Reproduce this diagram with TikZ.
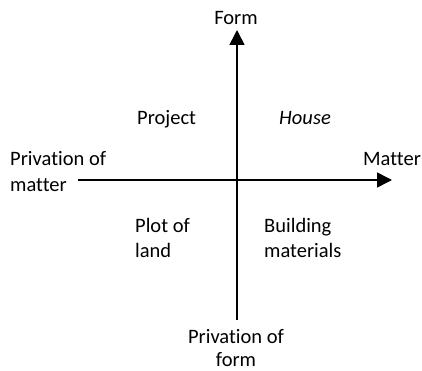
\documentclass[tikz,border=0pt]{standalone}
\usepackage{fontspec}
\setmainfont[Ligatures={NoCommon}]{Carlito}
\usetikzlibrary{arrows.meta}
\tikzset{
  axis/.style={line width=1.6pt,-{Triangle[length=15pt,width=15pt]}},
  lbl/.style={inner sep=0pt,font=\fontsize{20.5}{25}\selectfont}
}
\begin{document}
\begin{tikzpicture}[x=1pt,y=-1pt]
\useasboundingbox[fill=white] (0,0) rectangle (422,371);
\coordinate (vb) at (237,320);
\coordinate (vt) at (237,30);
\coordinate (hl) at (78,180);
\coordinate (hr) at (392,180);
\draw[axis] (vb) -- (vt);
\draw[axis] (hl) -- (hr);
\node[lbl,anchor=base] (form) at (236,25) {Form};
\node[lbl,anchor=base west] (matter) at (363,166) {Matter};
\node[lbl,anchor=base west,align=left] (pm) at (10,191) {Privation of\\matter};
\node[lbl,anchor=base,align=center,font=\fontsize{20.5}{23}\selectfont] (pf) at (236,366) {Privation of\\form};
\node[lbl,anchor=base west] (proj) at (137,125) {Project};
\node[lbl,anchor=base west] (house) at (279,125) {\itshape House};
\node[lbl,anchor=base west,align=left] (plot) at (135,257) {Plot of\\land};
\node[lbl,anchor=base west,align=left] (bm) at (264,257) {Building\\materials};
\end{tikzpicture}
\end{document}
